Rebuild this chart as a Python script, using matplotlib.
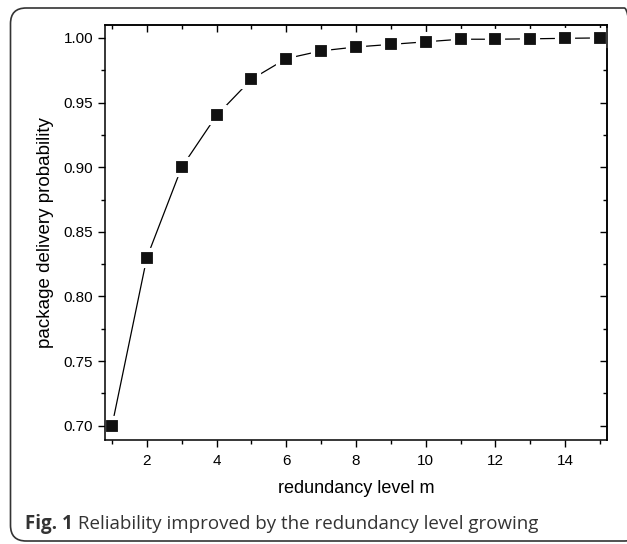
import matplotlib
matplotlib.use("Agg")
import matplotlib.pyplot as plt
from matplotlib.patches import FancyBboxPatch
from matplotlib.ticker import MultipleLocator, FormatStrFormatter

m = [1, 2, 3, 4, 5, 6, 7, 8, 9, 10, 11, 12, 13, 14, 15]
prob = [0.700, 0.830, 0.900, 0.940, 0.968, 0.984, 0.990, 0.993, 0.995,
        0.997, 0.999, 0.999, 0.9993, 0.9997, 1.000]
xlabel = "redundancy level m"
ylabel = "package delivery probability"
caption_bold = "Fig. 1"
caption_text = " Reliability improved by the redundancy level growing"

W, H = 627, 544
fig = plt.figure(figsize=(W / 100, H / 100), dpi=100)
plt.rcParams['font.family'] = ['Liberation Sans', 'DejaVu Sans']

# frame
frame = FancyBboxPatch((10.5 / W, 3 / H), (640 - 10.5) / W, (536 - 3) / H,
                       boxstyle="round,pad=0,rounding_size=0.025",
                       transform=fig.transFigure, fill=False,
                       edgecolor="#333333", linewidth=1.2, clip_on=False,
                       mutation_aspect=W / H)
fig.patches.append(frame)

left, right, top, bottom = 105, 607, 25, 440
ax = fig.add_axes([left / W, 1 - bottom / H, (right - left) / W, (bottom - top) / H])

ax.plot(m, prob, color="black", linewidth=0.9, marker="s", markersize=11.5,
        markerfacecolor="#111111", markeredgecolor="white", markeredgewidth=3.0,
        zorder=2)

ax.set_xlim(0.8, 15.2)
ax.set_ylim(0.689, 1.010)
ax.xaxis.set_major_locator(MultipleLocator(2))
ax.xaxis.set_minor_locator(MultipleLocator(1))
ax.yaxis.set_major_locator(MultipleLocator(0.05))
ax.yaxis.set_minor_locator(MultipleLocator(0.025))
ax.yaxis.set_major_formatter(FormatStrFormatter('%.2f'))

for s in ax.spines.values():
    s.set_linewidth(1.1)
    s.set_zorder(3)

ax.tick_params(axis='both', which='both', direction='out', top=False, right=False,
               labelsize=11, width=1.0, colors='black')
ax.tick_params(which='major', length=5)
ax.tick_params(which='minor', length=3)
ax.tick_params(axis='x', which='major', pad=5)

# mirrored inward ticks on top and right
axt = ax.secondary_xaxis('top')
axt.xaxis.set_major_locator(MultipleLocator(2))
axt.xaxis.set_minor_locator(MultipleLocator(1))
axt.tick_params(which='both', direction='in', labeltop=False, width=1.0)
axt.tick_params(which='major', length=5)
axt.tick_params(which='minor', length=3)
axt.spines['top'].set_linewidth(1.1)
axr = ax.secondary_yaxis('right')
axr.yaxis.set_major_locator(MultipleLocator(0.05))
axr.yaxis.set_minor_locator(MultipleLocator(0.025))
axr.tick_params(which='both', direction='in', labelright=False, width=1.0)
axr.tick_params(which='major', length=5)
axr.tick_params(which='minor', length=3)
axr.spines['right'].set_linewidth(1.1)

ax.set_xlabel(xlabel, fontsize=13, labelpad=9)
ax.set_ylabel(ylabel, fontsize=13.5, labelpad=7)

t1 = fig.text(25 / W, 1 - 529 / H, caption_bold, fontsize=13.5, fontweight='bold',
              family=['Open Sans', 'DejaVu Sans'], color='#333333', va='baseline')
fig.canvas.draw()
bb = t1.get_window_extent()
fig.text(bb.x1 / W, 1 - 529 / H, caption_text, fontsize=13.5,
         family=['Open Sans', 'DejaVu Sans'], color='#333333', va='baseline')

fig.savefig("out.png", dpi=100)
